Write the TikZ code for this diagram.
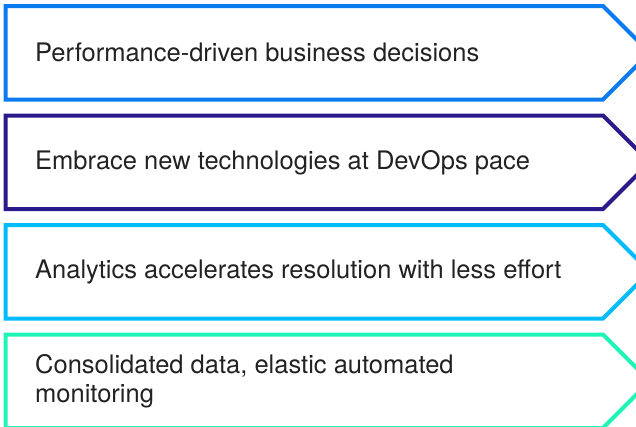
\documentclass[tikz,border=0pt]{standalone}
\usepackage{fontspec}
\setmainfont{TeX Gyre Heros}
\begin{document}
\begin{tikzpicture}[x=1pt,y=-1pt,
  chev/.style={line width=4pt,line join=miter,miter limit=10},
  label/.style={anchor=west,align=left,inner sep=0pt,text=textgrey,
    font=\fontsize{25.5}{29}\selectfont}]
\definecolor{cA}{RGB}{10,124,240}
\definecolor{cB}{RGB}{42,26,138}
\definecolor{cC}{RGB}{0,188,250}
\definecolor{cD}{RGB}{32,245,184}
\definecolor{textgrey}{RGB}{34,34,34}
\useasboundingbox (0,0) rectangle (636,426);
% chevron outlines: top edge, height, colour
\foreach \t/\c in {6/cA,115.5/cB,225/cC,334.5/cD}{
  \draw[chev,draw=\c] (5.5,\t) -- (603,\t) -- (649.75,\t+46.75)
    -- (603,\t+93.5) -- (5.5,\t+93.5) -- cycle;
}
\node[label] (t1) at (35,52.75) {Performance-driven business decisions};
\node[label] (t2) at (35,162.25) {Embrace new technologies at DevOps pace};
\node[label] (t3) at (35,271.75) {Analytics accelerates resolution with less effort};
\node[label] (t4) at (35,380.75) {Consolidated data, elastic automated\\monitoring};
\end{tikzpicture}
\end{document}
